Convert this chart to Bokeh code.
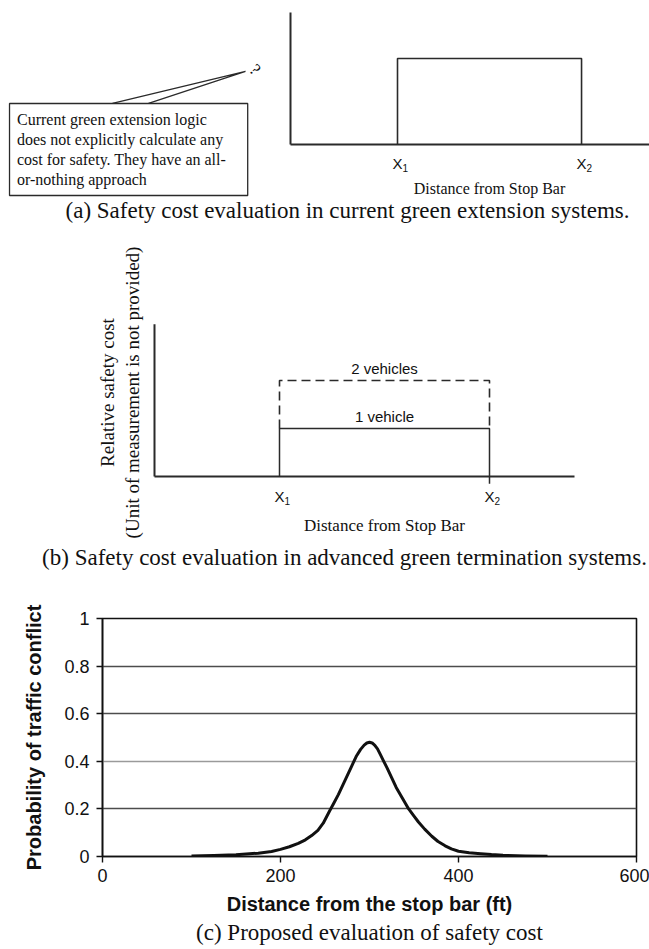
import math
from bokeh.plotting import figure
from bokeh.layouts import column
from bokeh.models import Range1d, FixedTicker, Grid, CustomJSTickFormatter, Title
from bokeh.core.properties import value
from bokeh.embed import file_html
from bokeh.resources import INLINE

# ---------------- data ----------------
# (a) current green extension: all-or-nothing safety cost (schematic)
a_positions = [1.0, 2.72]            # X1, X2 (schematic distances)
a_tick_names = ["X", "X"]
a_tick_subs = ["1", "2"]
a_level = 1.0
a_callout = ["Current green extension logic",
             "does not explicitly calculate any",
             "cost for safety. They have an all-",
             "or-nothing approach"]

# (b) advanced green termination: cost per number of vehicles (schematic)
b_positions = [1.0, 2.68]
b_tick_names = ["X", "X"]
b_tick_subs = ["1", "2"]
b_levels = [1, 2]
b_level_names = ["1 vehicle", "2 vehicles"]
b_ylabel = ["Relative safety cost", "(Unit of measurement is not provided)"]

# (c) proposed evaluation: probability of traffic conflict vs distance
c_distance = [100, 125, 150, 175, 190, 200, 210, 220, 228, 235, 242, 248, 255, 260,
              265, 270, 275, 280, 285, 290, 294, 297, 300, 303, 306, 309, 312, 316,
              320, 325, 330, 337, 344, 350, 355, 362, 370, 377, 385, 392, 400, 412,
              425, 437, 450, 475, 500]
c_probability = [0.002, 0.004, 0.007, 0.014, 0.021, 0.03, 0.041, 0.055, 0.07, 0.088,
                 0.11, 0.14, 0.19, 0.225, 0.26, 0.30, 0.34, 0.38, 0.42, 0.45, 0.468,
                 0.477, 0.48, 0.477, 0.467, 0.452, 0.43, 0.40, 0.37, 0.33, 0.29, 0.245,
                 0.20, 0.17, 0.145, 0.115, 0.085, 0.063, 0.045, 0.032, 0.022, 0.016,
                 0.012, 0.008, 0.005, 0.002, 0.001]
c_xticks = [0, 200, 400, 600]
c_yticks = [0, 0.2, 0.4, 0.6, 0.8, 1]

x_title = "Distance from Stop Bar"
captions = ["(a) Safety cost evaluation in current green extension systems.",
            "(b) Safety cost evaluation in advanced green termination systems.",
            "(c) Proposed evaluation of safety cost"]

# ---------------- style ----------------
SERIF = "Liberation Serif"
SANS = "Liberation Sans"
INK = "#2a2a2a"
TXT = "#111111"
W = 649


def no_align(p):
    if "frame_align" in p.properties():
        p.frame_align = False


def blank(height, xr, yr):
    p = figure(width=W, height=height, x_range=Range1d(*xr), y_range=Range1d(*yr),
               x_axis_type=None, y_axis_type=None, toolbar_location=None,
               output_backend="svg", min_border=0)
    p.outline_line_color = None
    p.background_fill_color = "white"
    no_align(p)
    return p


def txt(p, x, y, text, font, size, align="center", baseline="middle", **kw):
    p.text(x=x, y=y, text=text, text_font=value(font), text_font_size=size,
           text_align=align, text_baseline=baseline, text_color=TXT, **kw)


# ---------------- panel (a) ----------------
pa = blank(230, (-2.7103, 3.3551), (-1.0, 1.6744))
pa.segment(x0=[0, 0], y0=[0, 0], x1=[0, 3.4], y1=[1.535, 0], line_color=INK, line_width=2)
pa.line(x=[a_positions[0], a_positions[0], a_positions[1], a_positions[1]],
        y=[0, a_level, a_level, 0], line_color=INK, line_width=1.6)
# callout box with pointer
pa.quad(left=[-2.626], right=[-0.40], bottom=[-0.593], top=[0.477],
        fill_color="white", line_color=INK, line_width=1.3)
pa.line(x=[-1.664, -0.4206, -1.327], y=[0.477, 0.849, 0.477], line_color=INK, line_width=1.3)
txt(pa, [-0.33], [0.87], ["?"], SERIF, "17px", angle=-0.8)
txt(pa, [-2.556] * 4, [0.291, 0.058, -0.174, -0.407], a_callout, SERIF, "16px", align="left")
txt(pa, a_positions, [-0.221] * 2, a_tick_names, SANS, "15px")
txt(pa, a_positions, [-0.221] * 2, a_tick_subs, SANS, "10px", align="left", x_offset=5, y_offset=4)
txt(pa, [sum(a_positions) / 2], [-0.512], [x_title], SERIF, "16px")
txt(pa, [0.533], [-0.767], [captions[0]], SERIF, "23px")

# ---------------- panel (b) ----------------
pb = blank(342, (-1.232, 3.96), (-2.0, 5.125))
pb.segment(x0=[0, 0], y0=[0, 0], x1=[0, 3.36], y1=[3.17, 0], line_color=INK, line_width=2)
x1b, x2b = b_positions
pb.line(x=[x1b, x1b, x2b, x2b], y=[0, b_levels[0], b_levels[0], -0.15], line_color=INK, line_width=1.5)
pb.line(x=[x1b, x1b, x2b, x2b], y=[b_levels[0], b_levels[1], b_levels[1], b_levels[0]],
        line_color=INK, line_width=1.6, line_dash="9 5")
txt(pb, [(x1b + x2b) / 2] * 2, b_levels, b_level_names, SANS, "15px", baseline="bottom", y_offset=-4)
txt(pb, b_positions, [-0.417] * 2, b_tick_names, SANS, "15px")
txt(pb, b_positions, [-0.417] * 2, b_tick_subs, SANS, "10px", align="left", x_offset=5, y_offset=4)
txt(pb, [(x1b + x2b) / 2], [-1.02], [x_title], SERIF, "17px")
txt(pb, [-0.376, -0.176], [1.75, 1.75], b_ylabel, SERIF, "19px", angle=math.pi / 2)
txt(pb, [1.52], [-1.6875], [captions[1]], SERIF, "23px")

# ---------------- panel (c) ----------------
pc = figure(width=W, height=376, x_range=Range1d(0, 600), y_range=Range1d(0, 1),
            toolbar_location=None, output_backend="svg",
            min_border_left=102, min_border_right=13, min_border_top=46, min_border_bottom=92)
no_align(pc)
pc.grid.visible = False
pc.outline_line_color = "#111"
pc.outline_line_width = 1.6

pc.add_layout(Grid(dimension=1, ticker=FixedTicker(ticks=[0.2, 0.6, 0.8]),
                   grid_line_color="#4d4d4d", grid_line_width=1.6))
pc.add_layout(Grid(dimension=1, ticker=FixedTicker(ticks=[0.4]),
                   grid_line_color="#9a9a9a", grid_line_width=1.6))

pc.line(x=c_distance, y=c_probability, line_color="#111", line_width=3, line_join="round")

pc.xaxis.ticker = FixedTicker(ticks=c_xticks)
pc.yaxis.ticker = FixedTicker(ticks=c_yticks)
pc.yaxis.formatter = CustomJSTickFormatter(code="return String(Math.round(tick * 10) / 10);")
for ax in (pc.xaxis[0], pc.yaxis[0]):
    ax.axis_line_color = "#111"
    ax.axis_line_width = 1.6
    ax.major_tick_line_color = "#111"
    ax.major_tick_line_width = 1.4
    ax.major_tick_out = 6
    ax.major_tick_in = 0
    ax.minor_tick_line_color = None
    ax.major_label_text_font = SANS
    ax.major_label_text_font_size = "18px"
    ax.major_label_text_color = TXT
    ax.axis_label_text_font = SANS
    ax.axis_label_text_font_style = "bold"
    ax.axis_label_text_font_size = "20px"
    ax.axis_label_text_color = TXT
pc.xaxis.axis_label = "Distance from the stop bar (ft)"
pc.yaxis.axis_label = "Probability of traffic conflict"
pc.xaxis.major_label_standoff = 6
pc.yaxis.major_label_standoff = 7
pc.xaxis.axis_label_standoff = 8
pc.yaxis.axis_label_standoff = 16

pc.add_layout(Title(text=captions[2], align="center", offset=-16, standoff=0,
                    text_font=SERIF, text_font_style="normal", text_font_size="23px",
                    text_color=TXT), "below")

layout = column(pa, pb, pc, spacing=0)
open("out.html", "w").write(file_html(layout, INLINE))
